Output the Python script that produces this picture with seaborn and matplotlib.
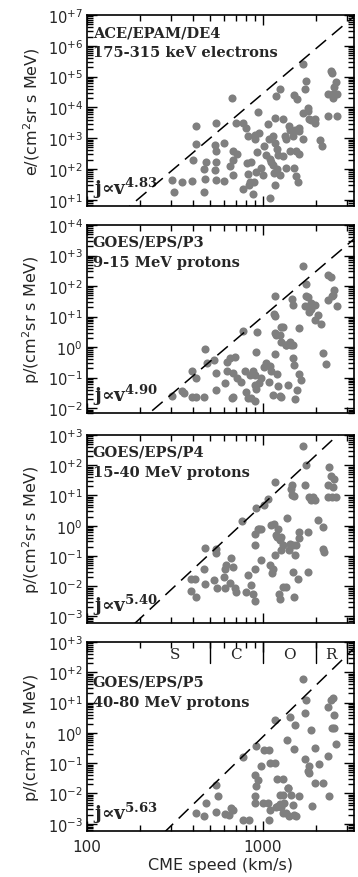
import matplotlib
matplotlib.use("Agg")
import matplotlib.pyplot as plt
import matplotlib.ticker as mticker
import numpy as np
import pandas as pd
import seaborn as sns

sns.set_style("ticks")
plt.rcParams['font.family'] = ['DejaVu Sans']
plt.rcParams['mathtext.fontset'] = 'dejavusans'

# values: log10(CME speed [km/s]) and log10(peak intensity)
de4_logv = [2.485, 2.492, 2.540, 2.598, 2.621, 2.621, 2.602, 2.667, 2.669, 2.663, 2.674,
            2.735, 2.729, 2.735, 2.731, 2.735, 2.727, 2.782, 2.777, 2.811, 2.830, 2.830, 2.826,
            2.848, 2.852, 2.830, 2.886, 2.902, 2.886, 2.909, 2.915, 2.915, 2.920, 2.928, 2.934,
            2.943, 2.953, 2.966, 2.962, 2.947, 2.958, 2.972, 2.981, 2.989, 3.000, 3.009, 3.019,
            3.028, 3.034, 3.042, 3.047, 3.057, 3.066, 3.076, 3.068, 3.072, 3.083, 3.087, 3.057,
            3.095, 3.083, 3.095, 3.068, 3.038, 3.114, 3.125, 3.133, 3.114, 3.129, 3.148, 3.152,
            3.155, 3.170, 3.182, 3.189, 3.195, 3.180, 3.178, 3.205, 3.208, 3.205, 3.189, 3.199,
            3.227, 3.227, 3.231, 3.237, 3.246, 3.256, 3.256, 3.265, 3.275, 3.294, 3.294, 3.326,
            3.337, 3.369, 3.369, 3.388, 3.394, 3.398, 3.398, 3.407, 3.420, 3.422, 3.417]
de4_logj = [1.65, 1.25, 1.59, 1.60, 3.39, 2.80, 2.28, 2.00, 1.67, 1.24, 2.22,
            3.50, 2.77, 2.60, 2.23, 1.65, 1.96, 2.83, 1.60, 2.09, 2.30, 1.82, 4.30,
            3.48, 2.50, 2.58, 3.48, 3.34, 1.35, 2.20, 3.07, 1.85, 1.49, 1.59, 2.23,
            1.20, 2.96, 2.55, 1.89, 1.57, 3.09, 3.85, 3.17, 2.03, 1.82, 2.74, 2.45,
            3.47, 2.96, 2.33, 2.22, 2.12, 1.87, 4.37, 3.66, 2.85, 2.66, 2.46, 3.07,
            4.61, 2.01, 1.82, 1.47, 1.05, 3.63, 3.07, 2.96, 2.41, 2.02, 3.39, 3.26,
            2.58, 3.07, 3.28, 2.58, 4.26, 2.02, 4.40, 3.34, 3.23, 2.50, 1.79, 1.57,
            3.83, 2.96, 5.42, 4.59, 4.87, 3.99, 3.87, 3.61, 3.59, 3.61, 3.48, 2.93,
            2.74, 3.72, 4.45, 5.18, 5.11, 4.45, 4.30, 4.67, 3.72, 4.45, 4.83]

p3_logv = [2.485, 2.538, 2.553, 2.598, 2.598, 2.621, 2.621, 2.672, 2.663, 2.682, 2.725,
           2.731, 2.735, 2.786, 2.796, 2.796, 2.815, 2.830, 2.830, 2.824, 2.839, 2.852,
           2.877, 2.886, 2.896, 2.905, 2.915, 2.928, 2.934, 2.943, 2.955, 2.955, 2.953,
           2.962, 2.966, 2.962, 2.981, 2.992, 3.009, 3.019, 3.034, 3.042, 3.047, 3.057,
           3.061, 3.068, 3.076, 3.070, 3.080, 3.085, 3.070, 3.068, 3.095, 3.104, 3.095,
           3.106, 3.104, 3.117, 3.129, 3.133, 3.142, 3.152, 3.161, 3.167, 3.170, 3.170,
           3.174, 3.180, 3.182, 3.195, 3.205, 3.208, 3.218, 3.227, 3.242, 3.246, 3.246,
           3.256, 3.265, 3.275, 3.275, 3.294, 3.294, 3.313, 3.332, 3.341, 3.360, 3.369,
           3.388, 3.394, 3.398, 3.407, 3.420, 3.369]
p3_logj = [-1.60, -1.45, -1.51, -1.65, -0.77, -1.02, -1.64, -0.07, -1.65, -0.53, -0.42,
           -0.86, -1.40, -1.18, -0.50, -0.80, -0.37, -0.84, -1.62, -1.67, -0.32, -1.02,
           -1.15, 0.52, -0.80, -1.46, -1.67, -0.91, -1.67, -0.80, -0.91, -1.24, -1.78,
           -0.15, 0.48, -1.37, -1.18, -1.00, -0.64, -0.53, -1.15, -0.62, -0.80, -1.57,
           1.07, 0.45, 0.39, -0.24, -0.88, -1.28, 1.68, 1.01, 0.41, 0.17, -1.59,
           0.66, -1.62, 0.66, 0.07, 0.07, -1.24, 0.17, 0.07, 1.57, 1.39, -0.35,
           0.07, -0.59, -1.71, -1.40, -0.88, 0.63, -1.09, 2.65, 1.35, 2.08, 1.67,
           1.64, 1.15, 1.45, 1.26, 1.37, 0.90, 1.04, 0.74, -0.21, -0.57, 2.35,
           2.29, 1.67, 1.70, 1.86, 1.34, 1.53]

p4_logv = [2.593, 2.617, 2.593, 2.621, 2.672, 2.672, 2.663, 2.725, 2.731, 2.735, 2.741,
           2.777, 2.784, 2.784, 2.792, 2.811, 2.820, 2.830, 2.839, 2.848, 2.883, 2.905,
           2.915, 2.934, 2.943, 2.953, 2.956, 2.955, 2.962, 2.958, 2.972, 2.981, 2.987,
           2.991, 3.009, 3.030, 3.042, 3.047, 3.053, 3.057, 3.066, 3.068, 3.070, 3.076,
           3.081, 3.085, 3.091, 3.095, 3.095, 3.104, 3.106, 3.114, 3.114, 3.133, 3.136,
           3.148, 3.152, 3.161, 3.165, 3.167, 3.170, 3.180, 3.182, 3.174, 3.178, 3.189,
           3.199, 3.205, 3.208, 3.231, 3.246, 3.242, 3.256, 3.256, 3.265, 3.275, 3.284,
           3.294, 3.313, 3.341, 3.341, 3.350, 3.369, 3.379, 3.388, 3.394, 3.398, 3.407,
           3.417, 3.369]
p4_logj = [-1.78, -1.78, -2.15, -2.37, -0.74, -1.93, -1.44, -1.80, -0.78, -0.92, -2.05,
           -1.69, -1.44, -2.05, -1.29, -1.91, -1.07, -1.36, -2.05, -2.19, 0.15, -2.19,
           -1.64, -1.95, -2.26, -1.42, -0.65, -0.26, 0.58, -2.48, -0.10, -0.10, -1.12,
           -0.10, 0.69, 0.89, -1.29, 0.01, -1.56, -1.42, 0.07, 1.46, -0.96, -0.32,
           -0.37, -0.10, -2.26, -0.48, -2.41, -0.81, -0.37, -0.63, -2.04, -2.04, 0.25,
           -0.81, -0.59, 1.22, 1.33, 1.00, -0.63, 0.97, -0.96, -1.53, -2.36, -0.63,
           -1.75, -0.40, -0.21, 2.65, 2.01, 1.33, -0.21, -1.53, 0.95, 0.84, 0.95,
           0.84, 0.18, -0.04, -0.76, -0.87, 0.95, 1.93, 1.66, 0.95, 1.27, 1.55,
           0.95, 1.33]

p5_logv = [2.621, 2.663, 2.678, 2.735, 2.744, 2.735, 2.784, 2.807, 2.820, 2.830, 2.886,
           2.886, 2.920, 2.962, 2.958, 2.962, 2.953, 2.958, 2.972, 2.991, 3.000, 3.009,
           3.034, 3.028, 3.034, 3.038, 3.042, 3.068, 3.068, 3.076, 3.080, 3.085, 3.095,
           3.098, 3.104, 3.114, 3.117, 3.117, 3.123, 3.133, 3.142, 3.152, 3.144, 3.138,
           3.148, 3.163, 3.170, 3.180, 3.184, 3.180, 3.189, 3.208, 3.231, 3.237, 3.237,
           3.246, 3.256, 3.261, 3.265, 3.275, 3.280, 3.294, 3.294, 3.318, 3.341, 3.369,
           3.369, 3.375, 3.388, 3.392, 3.398, 3.407, 3.417, 3.403]
p5_logj = [-2.65, -2.74, -2.32, -2.62, -2.08, -1.71, -2.68, -2.70, -2.48, -2.54, -0.80,
           -2.87, -2.89, -0.45, -1.38, -1.75, -2.08, -2.30, -1.55, -1.09, -2.30, -0.56,
           -0.56, -2.30, -2.87, -2.54, -1.00, -1.00, 0.43, -2.46, -1.53, -2.43, -2.35,
           -2.04, -2.46, -2.04, -1.53, -2.65, -2.30, -2.65, -1.82, 0.54, -1.82, -0.23,
           -2.76, -2.04, -2.38, -0.54, 0.25, -2.71, -2.76, -2.10, 1.77, -0.86, 0.65,
           1.09, -1.27, -1.11, -1.33, 0.10, -2.40, -0.51, -1.66, -1.03, -1.66, -0.76,
           0.87, -2.10, 1.09, 0.15, 1.14, 0.59, -0.36, 0.15]

instruments = ['ACE/EPAM/DE4', 'GOES/EPS/P3', 'GOES/EPS/P4', 'GOES/EPS/P5']
channels = ['175-315 keV electrons', '9-15 MeV protons', '15-40 MeV protons', '40-80 MeV protons']
ylabels = [r'e/(cm$^2$sr s MeV)', r'p/(cm$^2$sr s MeV)', r'p/(cm$^2$sr s MeV)', r'p/(cm$^2$sr s MeV)']
fit_index = [4.83, 4.90, 5.40, 5.63]
fit_log_at_1000 = [4.45, 1.0, 0.7, -0.13]   # log10 of fitted j at 1000 km/s
ylims = [(10**0.8, 1e7), (10**-2.16, 1e4), (10**-3.22, 1e3), (10**-3.24, 1e3)]
ydecades = [range(1, 8), range(-2, 5), range(-3, 4), range(-3, 4)]
logv_sets = [de4_logv, p3_logv, p4_logv, p5_logv]
logj_sets = [de4_logj, p3_logj, p4_logj, p5_logj]

# speed classes in the bottom panel
class_names = ['S', 'C', 'O', 'R']
class_centres = [316, 707, 1414, 2449]
class_edges = [500, 1000, 2000, 3000]

# panel boxes in pixels from top (top, bottom)
boxes = [(16, 207), (226, 414), (436, 624), (643, 832)]
W, H = 358, 878


def yfmt(val, pos):
    n = int(round(np.log10(val)))
    if n > 0:
        return r'$10^{+%d}$' % n
    if n == 0:
        return r'$10^{0}$'
    return r'$10^{-%d}$' % (-n)


fig = plt.figure(figsize=(W / 100, H / 100), dpi=100)
vgrid = np.array([100, 3300])

for i in range(4):
    top, bot = boxes[i]
    ax = fig.add_axes([87 / W, 1 - bot / H, (354 - 87) / W, (bot - top) / H])
    df = pd.DataFrame({'v': 10 ** np.array(logv_sets[i]), 'j': 10 ** np.array(logj_sets[i])})
    sns.scatterplot(data=df, x='v', y='j', ax=ax, color='#7f7f7f', s=34,
                    linewidth=0, zorder=3, legend=False)
    ax.plot(vgrid, 10 ** (fit_log_at_1000[i] + fit_index[i] * (np.log10(vgrid) - 3)),
            color='black', lw=1.1, dashes=(9, 5), zorder=4)
    ax.set_xscale('log')
    ax.set_yscale('log')
    ax.set_xlim(100, 3300)
    ax.set_ylim(*ylims[i])
    ymaj = [10.0 ** k for k in ydecades[i]]
    ymin = [m * 10.0 ** k for k in range(ydecades[i][0] - 1, ydecades[i][-1])
            for m in range(2, 10) if ylims[i][0] <= m * 10.0 ** k <= ylims[i][1]]
    ax.yaxis.set_major_locator(mticker.FixedLocator(ymaj))
    ax.yaxis.set_minor_locator(mticker.FixedLocator(ymin))
    ax.yaxis.set_major_formatter(mticker.FuncFormatter(yfmt))
    ax.yaxis.set_minor_formatter(mticker.NullFormatter())
    ax.xaxis.set_major_locator(mticker.FixedLocator([100, 1000]))
    ax.xaxis.set_minor_locator(mticker.FixedLocator([200, 300, 400, 500, 600, 700, 800, 900,
                                                     2000, 3000]))
    ax.xaxis.set_minor_formatter(mticker.NullFormatter())
    ax.tick_params(which='both', direction='in', top=True, right=True, width=1, color='black')
    ax.tick_params(which='major', length=7, labelsize=10.5, pad=3)
    ax.tick_params(which='minor', length=4)
    for sp in ax.spines.values():
        sp.set_linewidth(1.2)
        sp.set_color('black')
    ax.set_ylabel(ylabels[i], fontsize=11.5)
    ax.yaxis.set_label_coords(-0.17, 0.5)

    if i < 3:
        ax.set_xticklabels([])
        ax.set_xlabel('')
        ty = 0.91
    else:
        ax.xaxis.set_major_formatter(mticker.FixedFormatter(['100', '1000']))
        ax.tick_params(axis='x', which='major', labelsize=11, pad=6)
        ax.set_xlabel('CME speed (km/s)', fontsize=11.5, labelpad=2)
        ty = 0.79
        for name, c in zip(class_names, class_centres):
            ax.text(c, 0.935, name, transform=ax.get_xaxis_transform(), ha='center',
                    va='center', family='DejaVu Serif', fontsize=11)
        for e in class_edges:
            ax.axvline(e, ymin=0.89, ymax=1, color='black', lw=1)

    ax.text(0.022, ty, instruments[i], transform=ax.transAxes, ha='left', va='center',
            family='DejaVu Serif', fontweight='bold', fontsize=10.5)
    ax.text(0.022, ty - 0.105, channels[i], transform=ax.transAxes, ha='left', va='center',
            family='DejaVu Serif', fontweight='bold', fontsize=10.5)
    with plt.rc_context({'mathtext.fontset': 'dejavuserif'}):
        ax.text(0.022, 0.065, 'j\u221dv' + r'$^{\mathbf{%.2f}}$' % fit_index[i],
                transform=ax.transAxes, ha='left', va='baseline', fontsize=13.5,
                family=['DejaVu Serif', 'DejaVu Sans'], fontweight='bold')

fig.savefig('out.png', dpi=100)
plt.close(fig)
